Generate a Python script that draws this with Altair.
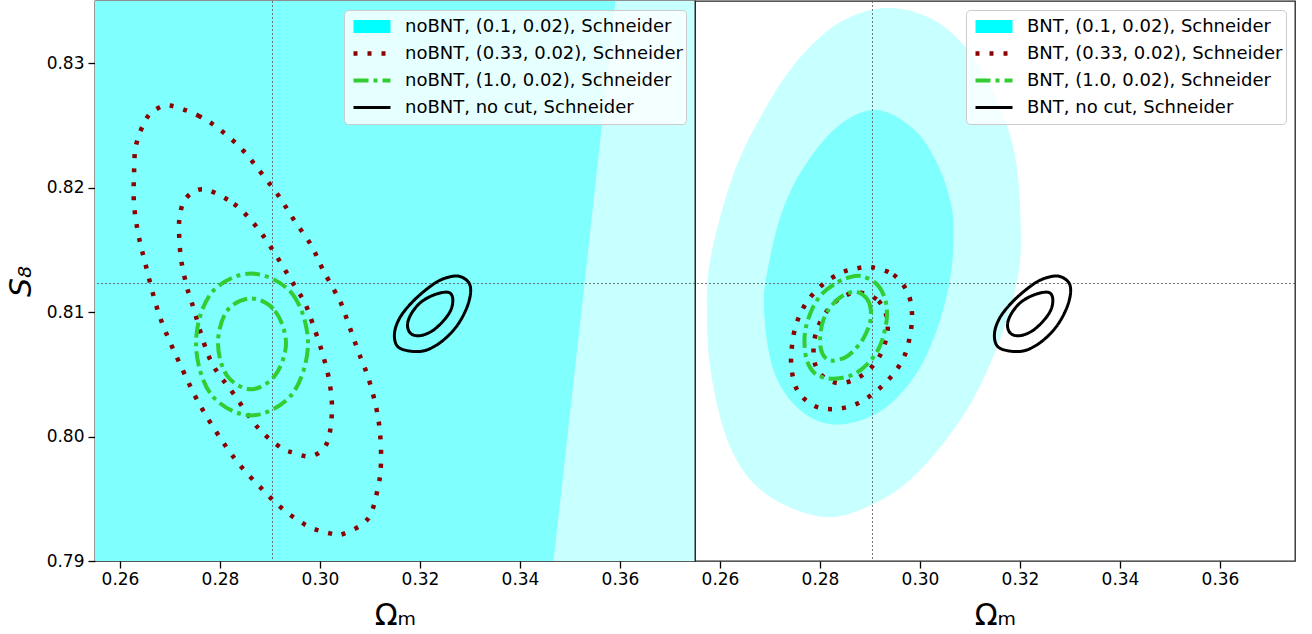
import altair as alt
import pandas as pd

FONT = "DejaVu Sans"

# ---------------- axes / reference values ----------------
X_DOMAIN = [0.255, 0.375]
Y_DOMAIN = [0.79, 0.835]
X_TICKS = [0.26, 0.28, 0.30, 0.32, 0.34, 0.36]
Y_TICKS = [0.79, 0.80, 0.81, 0.82, 0.83]
FID_OM = [0.2905]
FID_S8 = [0.8123]

LEFT_LABELS = [
    "noBNT, (0.1, 0.02), Schneider",
    "noBNT, (0.33, 0.02), Schneider",
    "noBNT, (1.0, 0.02), Schneider",
    "noBNT, no cut, Schneider",
]
RIGHT_LABELS = [
    "BNT, (0.1, 0.02), Schneider",
    "BNT, (0.33, 0.02), Schneider",
    "BNT, (1.0, 0.02), Schneider",
    "BNT, no cut, Schneider",
]

# ---------------- left panel (noBNT) contours ----------------
# (0.1, 0.02): both levels extend far beyond the view
L_S2_X = [0.24, 0.40, 0.40, 0.24]
L_S2_Y = [0.78, 0.78, 0.845, 0.845]
L_S1_X = [0.24, 0.3617, 0.3590, 0.3528, 0.3466, 0.3438, 0.24]
L_S1_Y = [0.845, 0.845, 0.8351, 0.8123, 0.7900, 0.7800, 0.78]

L_RED_OUT_X = [0.2700, 0.2756, 0.2802, 0.2846, 0.2882, 0.2918, 0.2948, 0.2982, 0.3006, 0.3036,
               0.3046, 0.3076, 0.3096, 0.3112, 0.3120, 0.3122, 0.3116, 0.3096, 0.3048, 0.3022,
               0.2976, 0.2928, 0.2886, 0.2828, 0.2766, 0.2726, 0.2680, 0.2650, 0.2636, 0.2628,
               0.2628, 0.2632, 0.2652, 0.2672]
L_RED_OUT_Y = [0.8266, 0.8258, 0.8246, 0.8230, 0.8212, 0.8193, 0.8174, 0.8154, 0.8134, 0.8112,
               0.8103, 0.8069, 0.8048, 0.8024, 0.8003, 0.7979, 0.7959, 0.7934, 0.7922, 0.7922,
               0.7928, 0.7941, 0.7957, 0.7983, 0.8021, 0.8053, 0.8096, 0.8140, 0.8164, 0.8187,
               0.8210, 0.8234, 0.8255, 0.8263]
L_RED_IN_X = [0.2776, 0.2828, 0.2868, 0.2902, 0.2948, 0.2970, 0.2986, 0.3004, 0.3018, 0.3024,
              0.3018, 0.3004, 0.2978, 0.2948, 0.2922, 0.2876, 0.2826, 0.2788, 0.2768, 0.2748,
              0.2734, 0.2722, 0.2718, 0.2720, 0.2728, 0.2748]
L_RED_IN_Y = [0.8198, 0.8187, 0.8171, 0.8152, 0.8122, 0.8107, 0.8090, 0.8068, 0.8046, 0.8023,
              0.8000, 0.7989, 0.7984, 0.7987, 0.7991, 0.8007, 0.8035, 0.8056, 0.8075, 0.8102,
              0.8120, 0.8143, 0.8166, 0.8178, 0.8189, 0.8197]
L_GRN_OUT_X = [0.2862, 0.2944, 0.2976, 0.2944, 0.2862, 0.2782, 0.2752, 0.2782]
L_GRN_OUT_Y = [0.8131, 0.8115, 0.8075, 0.8034, 0.8017, 0.8034, 0.8075, 0.8115]
L_GRN_IN_X = [0.2862, 0.2910, 0.2932, 0.2910, 0.2862, 0.2814, 0.2796, 0.2814]
L_GRN_IN_Y = [0.8111, 0.8101, 0.8075, 0.8049, 0.8038, 0.8049, 0.8075, 0.8101]

# no cut (identical in both panels)
BLK_OUT_X = [0.3275, 0.3297, 0.3301, 0.3292, 0.3272, 0.3242, 0.3209, 0.3175, 0.3154, 0.3149,
             0.3159, 0.3182, 0.3212, 0.3242]
BLK_OUT_Y = [0.8129, 0.8124, 0.8115, 0.8102, 0.8088, 0.8076, 0.8069, 0.8069, 0.8073, 0.8083,
             0.8095, 0.8107, 0.8118, 0.8126]
BLK_IN_X = [0.3255, 0.3265, 0.3263, 0.3249, 0.3225, 0.3199, 0.3181, 0.3175, 0.3183, 0.3202, 0.3229]
BLK_IN_Y = [0.8116, 0.8112, 0.8103, 0.8094, 0.8085, 0.8081, 0.8083, 0.8090, 0.8099, 0.8108, 0.8114]

# ---------------- right panel (BNT) contours ----------------
R_S2_X = [0.2935, 0.3029, 0.3102, 0.3155, 0.3189, 0.3200, 0.3195, 0.3155, 0.3089, 0.2989,
          0.2895, 0.2802, 0.2689, 0.2622, 0.2585, 0.2575, 0.2582, 0.2629, 0.2695, 0.2762, 0.2842]
R_S2_Y = [0.8344, 0.8334, 0.8307, 0.8268, 0.8226, 0.8174, 0.8129, 0.8074, 0.8019, 0.7969,
          0.7944, 0.7936, 0.7955, 0.7991, 0.8046, 0.8096, 0.8143, 0.8212, 0.8266, 0.8305, 0.8333]
R_S1_X = [0.2915, 0.2989, 0.3035, 0.3062, 0.3066, 0.3058, 0.3032, 0.2989, 0.2922, 0.2835,
          0.2762, 0.2709, 0.2689, 0.2699, 0.2729, 0.2776, 0.2842]
R_S1_Y = [0.8262, 0.8246, 0.8218, 0.8185, 0.8157, 0.8124, 0.8085, 0.8049, 0.8021, 0.8010,
          0.8021, 0.8052, 0.8102, 0.8140, 0.8185, 0.8221, 0.8251]
R_RED_OUT_X = [0.2904, 0.2947, 0.2975, 0.2984, 0.2980, 0.2967, 0.2942, 0.2911, 0.2872, 0.2827,
               0.2787, 0.2755, 0.2743, 0.2744, 0.2753, 0.2772, 0.2802, 0.2839, 0.2872]
R_RED_OUT_Y = [0.8136, 0.8130, 0.8116, 0.8099, 0.8081, 0.8063, 0.8048, 0.8036, 0.8026, 0.8022,
               0.8025, 0.8037, 0.8055, 0.8073, 0.8091, 0.8107, 0.8121, 0.8131, 0.8135]
R_RED_IN_X = [0.2877, 0.2917, 0.2935, 0.2930, 0.2910, 0.2875, 0.2834, 0.2797, 0.2787, 0.2795,
              0.2818, 0.2845]
R_RED_IN_Y = [0.8116, 0.8109, 0.8093, 0.8075, 0.8059, 0.8047, 0.8043, 0.8052, 0.8069, 0.8087,
              0.8103, 0.8112]
R_GRN_OUT_X = [0.2882, 0.2912, 0.2929, 0.2934, 0.2930, 0.2919, 0.2899, 0.2872, 0.2842, 0.2812,
               0.2789, 0.2774, 0.2769, 0.2772, 0.2785, 0.2805, 0.2835, 0.2859]
R_GRN_OUT_Y = [0.8129, 0.8123, 0.8112, 0.8099, 0.8086, 0.8072, 0.8060, 0.8051, 0.8047, 0.8047,
               0.8051, 0.8061, 0.8075, 0.8088, 0.8103, 0.8115, 0.8124, 0.8128]
R_GRN_IN_X = [0.2875, 0.2895, 0.2902, 0.2899, 0.2887, 0.2872, 0.2852, 0.2825, 0.2809, 0.2801,
              0.2801, 0.2807, 0.2819, 0.2835, 0.2855]
R_GRN_IN_Y = [0.8116, 0.8110, 0.8100, 0.8090, 0.8079, 0.8071, 0.8064, 0.8061, 0.8064, 0.8072,
              0.8083, 0.8094, 0.8103, 0.8110, 0.8115]

# ---------------- styles ----------------
FILL_1S = "#80ffff"
FILL_2S = "#c8ffff"
LINE_COLORS = ["#00ffff", "#8b0000", "#32cd32", "#000000"]
LINE_DASHES = [[1, 0], [4, 10], [15, 5, 4, 5], [1, 0]]
LINE_WIDTHS = [13, 4.5, 4, 3]


def xy_df(xs, ys):
    return pd.DataFrame({"x": xs, "y": ys, "i": list(range(len(xs)))})


def lines_df(labels, contours):
    rows = []
    for cid, (lab_idx, xs, ys) in enumerate(contours):
        for i, (x, y) in enumerate(zip(xs, ys)):
            rows.append({"label": labels[lab_idx], "cid": cid, "i": i, "x": x, "y": y})
    return pd.DataFrame(rows)


def panel(labels, fills, contours, show_y):
    xenc = alt.X(
        "x:Q",
        scale=alt.Scale(domain=X_DOMAIN, nice=False, zero=False),
        axis=alt.Axis(values=X_TICKS, format=".2f", title="Ωₘ", titlePadding=13, labelPadding=3),
    )
    if show_y:
        yaxis = alt.Axis(values=Y_TICKS, format=".2f", title="S₈", titleFontStyle="italic",
                         titlePadding=10, labelPadding=4)
    else:
        yaxis = None
    yenc = alt.Y("y:Q", scale=alt.Scale(domain=Y_DOMAIN, nice=False, zero=False), axis=yaxis)

    layers = []
    for xs, ys, col, interp in fills:
        layers.append(
            alt.Chart(xy_df(xs, ys))
            .mark_line(fill=col, stroke=col, strokeWidth=1, interpolate=interp, clip=True)
            .encode(x=xenc, y=yenc, order=alt.Order("i:Q"))
        )
    rule_style = dict(color="#555555", strokeWidth=0.8, strokeDash=[2, 2], clip=True)
    layers.append(alt.Chart(pd.DataFrame({"x": FID_OM})).mark_rule(**rule_style).encode(x=xenc))
    layers.append(alt.Chart(pd.DataFrame({"y": FID_S8})).mark_rule(**rule_style).encode(y=yenc))

    legend = alt.Legend(
        title=None, orient="top-right", offset=9, padding=3,
        fillColor="rgba(255,255,255,0.8)", strokeColor="#cccccc", cornerRadius=4,
        labelFont=FONT, labelFontSize=18, labelColor="black", labelLimit=400,
        symbolType="stroke", symbolSize=1369, clipHeight=27, rowPadding=0, labelOffset=8,
    )
    layers.append(
        alt.Chart(lines_df(labels, contours))
        .mark_line(interpolate="cardinal-closed", clip=True, strokeCap="butt")
        .encode(
            x=xenc,
            y=yenc,
            detail="cid:N",
            order=alt.Order("i:Q"),
            color=alt.Color("label:N", scale=alt.Scale(domain=labels, range=LINE_COLORS), legend=legend),
            strokeDash=alt.StrokeDash("label:N", scale=alt.Scale(domain=labels, range=LINE_DASHES), legend=legend),
            strokeWidth=alt.StrokeWidth("label:N", scale=alt.Scale(type="ordinal", domain=labels, range=LINE_WIDTHS), legend=legend),
        )
    )
    return alt.layer(*layers).properties(width=600, height=560)


left = panel(
    LEFT_LABELS,
    [(L_S2_X, L_S2_Y, FILL_2S, "linear-closed"), (L_S1_X, L_S1_Y, FILL_1S, "linear-closed")],
    [
        (1, L_RED_OUT_X, L_RED_OUT_Y),
        (1, L_RED_IN_X, L_RED_IN_Y),
        (2, L_GRN_OUT_X, L_GRN_OUT_Y),
        (2, L_GRN_IN_X, L_GRN_IN_Y),
        (3, BLK_OUT_X, BLK_OUT_Y),
        (3, BLK_IN_X, BLK_IN_Y),
    ],
    True,
)
right = panel(
    RIGHT_LABELS,
    [(R_S2_X, R_S2_Y, FILL_2S, "cardinal-closed"), (R_S1_X, R_S1_Y, FILL_1S, "cardinal-closed")],
    [
        (1, R_RED_OUT_X, R_RED_OUT_Y),
        (1, R_RED_IN_X, R_RED_IN_Y),
        (2, R_GRN_OUT_X, R_GRN_OUT_Y),
        (2, R_GRN_IN_X, R_GRN_IN_Y),
        (3, BLK_OUT_X, BLK_OUT_Y),
        (3, BLK_IN_X, BLK_IN_Y),
    ],
    False,
)

chart = (
    alt.hconcat(left, right, spacing=0, bounds="flush")
    .resolve_scale(color="independent", strokeDash="independent", strokeWidth="independent")
    .resolve_legend(color="independent", strokeDash="independent", strokeWidth="independent")
    .properties(padding={"left": 5, "top": 0, "right": 5, "bottom": 0}, background="white")
    .configure_view(stroke="#222222", strokeWidth=1.3)
    .configure_axis(
        grid=False, domain=False, ticks=True, tickSize=7, tickWidth=1.3, tickColor="black",
        labelFont=FONT, labelFontSize=17, labelColor="black",
        titleFont=FONT, titleFontSize=30, titleFontWeight="normal", titleColor="black",
    )
)

chart.save("out.html", embed_options={"renderer": "svg", "actions": False})
